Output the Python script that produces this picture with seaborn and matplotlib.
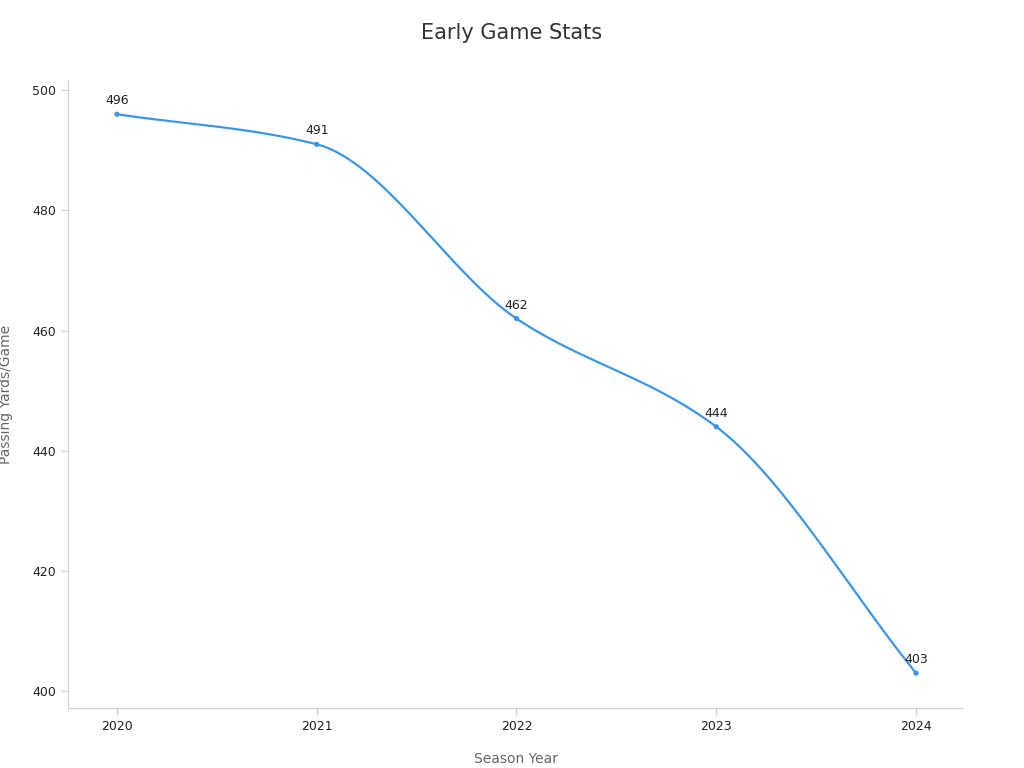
import numpy as np
import matplotlib
matplotlib.use("Agg")
import matplotlib.pyplot as plt
import seaborn as sns

years = [2020, 2021, 2022, 2023, 2024]
yards = [496, 491, 462, 444, 403]
line_color = "#3c96e6"


def monotone_curve(x, y, n=60):
    # Fritsch-Carlson monotone cubic, like a "smooth" line option
    x = np.asarray(x, float)
    y = np.asarray(y, float)
    h = np.diff(x)
    d = np.diff(y) / h
    m = np.zeros_like(y)
    m[0], m[-1] = d[0], d[-1]
    for i in range(1, len(y) - 1):
        if d[i - 1] * d[i] <= 0:
            m[i] = 0
        else:
            m[i] = 2 / (1 / d[i - 1] + 1 / d[i])
    xs, ys = [], []
    for i in range(len(h)):
        t = np.linspace(0, 1, n)
        h00 = 2 * t**3 - 3 * t**2 + 1
        h10 = t**3 - 2 * t**2 + t
        h01 = -2 * t**3 + 3 * t**2
        h11 = t**3 - t**2
        xs.append(x[i] + t * h[i])
        ys.append(h00 * y[i] + h10 * h[i] * m[i] + h01 * y[i + 1] + h11 * h[i] * m[i + 1])
    return np.concatenate(xs), np.concatenate(ys)


sns.set_theme(style="white")
fig = plt.figure(figsize=(10.24, 7.68), dpi=100)
ax = fig.add_axes([68 / 1024, 60 / 768, 895 / 1024, 628 / 768])

cx, cy = monotone_curve(years, yards)
sns.lineplot(x=cx, y=cy, ax=ax, color=line_color, linewidth=1.6, sort=False)
sns.scatterplot(x=years, y=yards, ax=ax, color=line_color, s=14, edgecolor="none", zorder=3)

for x, y in zip(years, yards):
    ax.annotate(str(y), (x, y), xytext=(0, 5), textcoords="offset points",
                ha="center", va="bottom", fontsize=9, color="#222222")

ax.set_xlim(2019.755, 2024.235)
ax.set_ylim(397.2, 501.7)
ax.set_xticks(years)
ax.set_xticklabels([str(y) for y in years])
ax.set_yticks([400, 420, 440, 460, 480, 500])

for s in ["top", "right"]:
    ax.spines[s].set_visible(False)
for s in ["left", "bottom"]:
    ax.spines[s].set_color("#cccccc")
    ax.spines[s].set_linewidth(0.8)
ax.tick_params(axis="both", colors="#cccccc", labelcolor="#222222", labelsize=9,
               length=5, width=0.8, left=True, bottom=True)

ax.set_xlabel("Season Year", fontsize=10, color="#666666", labelpad=14)
ax.set_ylabel("Passing Yards/Game", fontsize=10, color="#666666", labelpad=14)
fig.suptitle("Early Game Stats", fontsize=15, color="#333333", y=0.97)

fig.savefig("out.png", dpi=100)
